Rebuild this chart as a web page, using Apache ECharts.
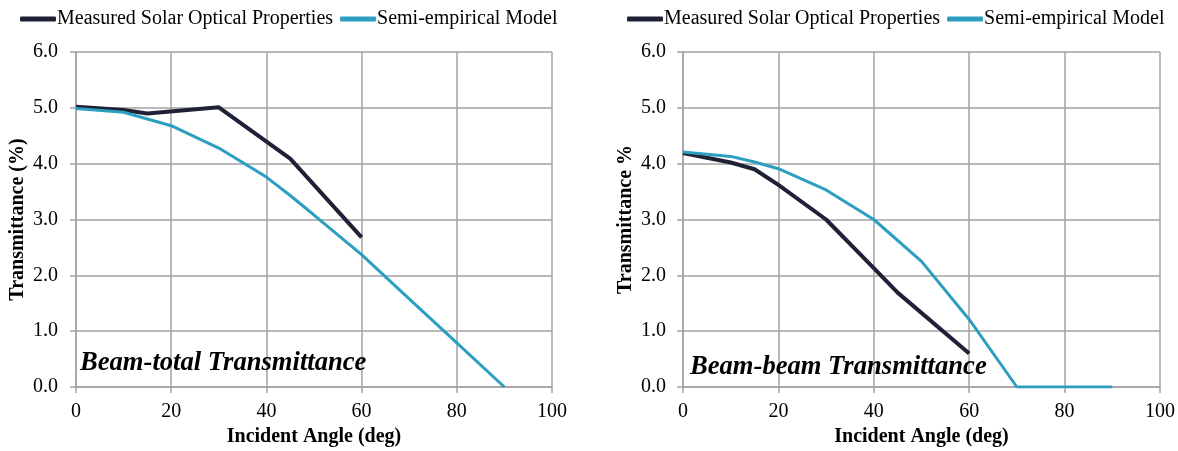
<!DOCTYPE html>
<html>
<head>
<meta charset="utf-8">
<script src="https://cdn.jsdelivr.net/npm/echarts@6/dist/echarts.min.js"></script>
<style>
html,body{margin:0;padding:0;background:#fff;}
#chart{width:1178px;height:451px;}
</style>
</head>
<body>
<div id="chart"></div>
<script>
// ---- Data ----
const seriesNames = ['Measured Solar Optical Properties', 'Semi-empirical Model'];
const xTicks = [0, 20, 40, 60, 80, 100];
const yTicks = [0.0, 1.0, 2.0, 3.0, 4.0, 5.0, 6.0];

// Beam-total transmittance (left panel)
const totalMeasuredAngles = [0, 10, 15, 30, 45, 60];
const totalMeasuredValues = [5.02, 4.96, 4.90, 5.01, 4.09, 2.68];
const totalModelAngles = [0, 10, 15, 20, 30, 40, 45, 50, 60, 70, 80, 90];
const totalModelValues = [4.99, 4.92, 4.80, 4.68, 4.28, 3.76, 3.43, 3.08, 2.37, 1.58, 0.79, 0.0];

// Beam-beam transmittance (right panel)
const beamMeasuredAngles = [0, 10, 15, 20, 30, 40, 45, 60];
const beamMeasuredValues = [4.19, 4.02, 3.90, 3.62, 3.00, 2.13, 1.69, 0.60];
const beamModelAngles = [0, 10, 15, 20, 30, 40, 50, 60, 70, 80, 90];
const beamModelValues = [4.21, 4.13, 4.03, 3.91, 3.53, 3.00, 2.25, 1.21, 0.0, 0.0, 0.0];

const panelLabels = ['Beam-total Transmittance', 'Beam-beam Transmittance'];
const yTitles = ['Transmittance (%)', 'Transmittance %'];
const xTitle = 'Incident Angle (deg)';

// ---- Build ----
const pairs = (xs, ys) => xs.map((x, i) => [x, ys[i]]);
const DARK = '#1f2136';
const BLUE = '#2c9fc1';
const GRID = '#a3a3a3';
const FONT = '"Liberation Serif", "Times New Roman", serif';

function xAxis(gi) {
  return {
    type: 'value', gridIndex: gi, min: xTicks[0], max: xTicks[xTicks.length - 1], interval: 20,
    name: xTitle, nameLocation: 'middle', nameGap: 39,
    nameTextStyle: { fontFamily: FONT, fontWeight: 'bold', fontSize: 20, color: '#000' },
    axisLine: { show: true, lineStyle: { color: GRID, width: 1.5 } },
    axisTick: { show: true, length: 6, lineStyle: { color: GRID, width: 1.5 } },
    axisLabel: { fontFamily: FONT, fontSize: 20, color: '#000', margin: 15 },
    splitLine: { show: true, lineStyle: { color: GRID, width: 1.5 } }
  };
}
function yAxis(gi) {
  return {
    type: 'value', gridIndex: gi, min: yTicks[0], max: yTicks[yTicks.length - 1], interval: 1,
    name: yTitles[gi], nameLocation: 'middle', nameGap: gi === 0 ? 48 : 47,
    nameTextStyle: { fontFamily: FONT, fontWeight: 'bold', fontSize: 20, color: '#000' },
    axisLine: { show: true, lineStyle: { color: GRID, width: 1.5 } },
    axisTick: { show: true, length: 6, lineStyle: { color: GRID, width: 1.5 } },
    axisLabel: { fontFamily: FONT, fontSize: 20, color: '#000', margin: gi === 0 ? 18 : 17, formatter: v => v.toFixed(1) },
    splitLine: { show: true, lineStyle: { color: GRID, width: 1.5 } }
  };
}
function line(name, data, gi, color, width) {
  return {
    name, type: 'line', xAxisIndex: gi, yAxisIndex: gi, data,
    symbol: 'none', smooth: false, animation: false,
    lineStyle: { color, width }, itemStyle: { color }
  };
}
function legend(left) {
  return {
    data: seriesNames, left, top: 4, itemWidth: 36, itemHeight: 5, itemGap: 7,
    icon: 'roundRect',
    textStyle: { fontFamily: FONT, fontSize: 20, color: '#000', padding: [0, 0, 0, -4] }
  };
}

const chart = echarts.init(document.getElementById('chart'), null, { renderer: 'canvas' });
chart.setOption({
  backgroundColor: '#fff',
  animation: false,
  legend: [legend(15), legend(622)],
  grid: [
    { left: 76, right: 626, top: 52, bottom: 64, containLabel: false, outerBoundsMode: 'none' },
    { left: 683, right: 18, top: 52, bottom: 64, containLabel: false, outerBoundsMode: 'none' }
  ],
  xAxis: [xAxis(0), xAxis(1)],
  yAxis: [yAxis(0), yAxis(1)],
  series: [
    line(seriesNames[0], pairs(totalMeasuredAngles, totalMeasuredValues), 0, DARK, 4),
    line(seriesNames[1], pairs(totalModelAngles, totalModelValues), 0, BLUE, 3),
    line(seriesNames[0], pairs(beamMeasuredAngles, beamMeasuredValues), 1, DARK, 4),
    line(seriesNames[1], pairs(beamModelAngles, beamModelValues), 1, BLUE, 3)
  ],
  graphic: [
    { type: 'text', left: 80, top: 350, z: 100,
      style: { text: panelLabels[0], fill: '#000', font: 'italic bold 26.6px ' + FONT } },
    { type: 'text', left: 690, top: 354, z: 100,
      style: { text: panelLabels[1], fill: '#000', font: 'italic bold 26.6px ' + FONT } }
  ]
});
</script>
</body>
</html>
